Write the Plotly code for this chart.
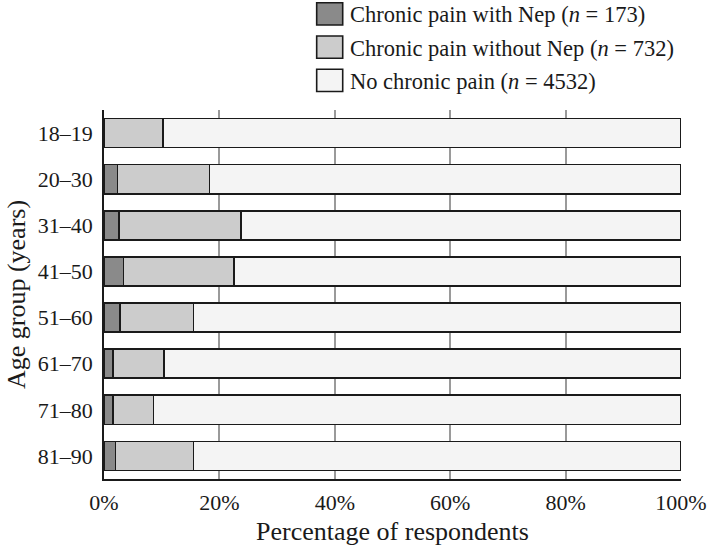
import plotly.graph_objects as go

age_groups = ["18–19", "20–30", "31–40", "41–50", "51–60", "61–70", "71–80", "81–90"]
with_nep = [0.0, 2.35, 2.6, 3.4, 2.8, 1.6, 1.6, 2.0]
without_nep = [10.2, 15.95, 21.1, 19.1, 12.7, 8.8, 7.0, 13.5]
no_pain = [round(100 - a - b, 2) for a, b in zip(with_nep, without_nep)]

series_names = [
    "Chronic pain with Nep (<i>n</i> = 173)",
    "Chronic pain without Nep (<i>n</i> = 732)",
    "No chronic pain (<i>n</i> = 4532)",
]
series_values = [with_nep, without_nep, no_pain]
colors = ["#8a8a8a", "#cccccc", "#f4f4f4"]
x_ticks = [0, 20, 40, 60, 80, 100]
x_tick_labels = ["0%", "20%", "40%", "60%", "80%", "100%"]

FONT = "Liberation Serif, Times New Roman, serif"
INK = "#1a1a1a"

fig = go.Figure()
for name, vals, col in zip(series_names, series_values, colors):
    fig.add_trace(go.Bar(
        y=age_groups, x=vals, name=name, orientation="h",
        marker=dict(color=col, line=dict(color=INK, width=1.6)),
        showlegend=False,
    ))

# manual legend (large swatches like the reference)
shapes = []
annotations = []
row_top = 1.2908
row_step = 0.0902
box_h = 0.0604
for i, (name, col) in enumerate(zip(series_names, colors)):
    y0 = row_top - i * row_step
    shapes.append(dict(type="rect", xref="paper", yref="paper",
                       x0=0.3686, x1=0.4137, y0=y0 - box_h, y1=y0,
                       fillcolor=col, line=dict(color=INK, width=1.6)))
    annotations.append(dict(xref="paper", yref="paper", x=0.4235, y=y0 - box_h / 2 - 0.003,
                            text=name, showarrow=False, xanchor="left", yanchor="middle",
                            font=dict(family=FONT, size=22.5, color=INK)))

fig.update_layout(
    width=709, height=546,
    margin=dict(l=104, r=28, t=110, b=67),
    barmode="stack",
    bargap=0.37,
    plot_bgcolor="white", paper_bgcolor="white",
    font=dict(family=FONT, size=22, color=INK),
    shapes=shapes, annotations=annotations,
)
fig.update_xaxes(
    range=[0, 100], tickvals=x_ticks, ticktext=x_tick_labels,
    showgrid=True, gridcolor="#9a9a9a", gridwidth=1.6,
    showline=True, linecolor=INK, linewidth=1.6,
    zeroline=False, ticks="", ticklabelstandoff=3,
    tickfont=dict(family=FONT, size=22),
    automargin=False,
    title=dict(text="Percentage of respondents", standoff=9,
               font=dict(family=FONT, size=26)),
)
fig.update_yaxes(
    autorange="reversed", showgrid=False,
    showline=True, linecolor=INK, linewidth=1.6,
    ticks="", ticklabelstandoff=5,
    tickfont=dict(family=FONT, size=22),
    automargin=False,
    title=dict(text="Age group (years)", standoff=5,
               font=dict(family=FONT, size=26)),
)

fig.write_html("out.html", config={"displayModeBar": False},
               post_script="document.body.style.margin='0';")
